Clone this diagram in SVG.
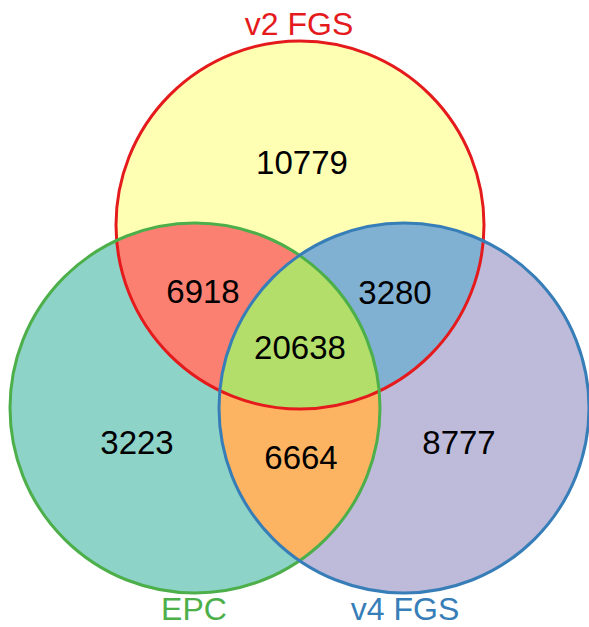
<svg xmlns="http://www.w3.org/2000/svg" width="589" height="627" viewBox="0 0 589 627">
<style>
.num{font-family:"Liberation Sans",Arial,sans-serif;font-size:33px;fill:#000;text-anchor:middle}
.lab{font-family:"Liberation Sans",Arial,sans-serif;font-size:32px;text-anchor:middle}
.out{fill:none;stroke-width:3}
</style>
<defs>
<clipPath id="cA"><circle cx="300" cy="225" r="184"/></clipPath>
<clipPath id="cB"><circle cx="195" cy="408" r="185"/></clipPath>
<clipPath id="cC"><circle cx="404" cy="408" r="185"/></clipPath>
</defs>
<rect width="589" height="627" fill="#fff"/>
<g id="fills">
<circle cx="300" cy="225" r="184" fill="#FFFFB3"/>
<circle cx="195" cy="408" r="185" fill="#8DD3C7"/>
<circle cx="404" cy="408" r="185" fill="#BEBADA"/>
<g clip-path="url(#cA)"><circle cx="195" cy="408" r="185" fill="#FB8072"/><circle cx="404" cy="408" r="185" fill="#80B1D3"/></g>
<g clip-path="url(#cB)"><circle cx="404" cy="408" r="185" fill="#FDB462"/></g>
<g clip-path="url(#cA)"><g clip-path="url(#cB)"><circle cx="404" cy="408" r="185" fill="#B3DE69"/></g></g>
</g>
<g id="v2FGS">
<circle class="out" cx="300" cy="225" r="184" stroke="#E41A1C"/>
<text class="lab" x="299" y="35" fill="#E41A1C">v2 FGS</text>
</g>
<g id="EPC">
<circle class="out" cx="195" cy="408" r="185" stroke="#4DAF4A"/>
<text class="lab" x="194" y="620" fill="#4DAF4A">EPC</text>
</g>
<g id="v4FGS">
<circle class="out" cx="404" cy="408" r="185" stroke="#377EB8"/>
<text class="lab" x="405" y="620" fill="#377EB8">v4 FGS</text>
</g>
<g id="counts">
<text class="num" x="302" y="174">10779</text>
<text class="num" x="203" y="303">6918</text>
<text class="num" x="395" y="304">3280</text>
<text class="num" x="300" y="359">20638</text>
<text class="num" x="137" y="454">3223</text>
<text class="num" x="301" y="469">6664</text>
<text class="num" x="459" y="454">8777</text>
</g>
</svg>
